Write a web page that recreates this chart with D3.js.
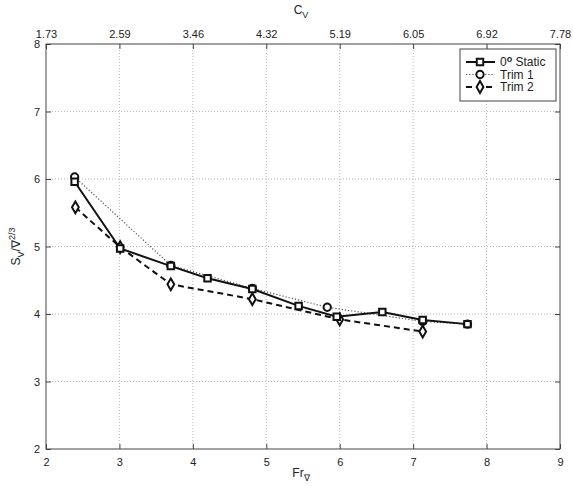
<!DOCTYPE html>
<html>
<head>
<script src="https://cdnjs.cloudflare.com/ajax/libs/d3/7.8.5/d3.min.js"></script>
<style>
  body { margin: 0; background: #fff; }
  text { font-family: "Liberation Sans", Arial, sans-serif; fill: #222; }
</style>
</head>
<body>
<div id="vis"></div>
<script>
// values
const frStatic = [2.39, 3.01, 3.70, 4.20, 4.81, 5.44, 5.96, 6.58, 7.13, 7.74];
const sStatic  = [5.96, 4.97, 4.71, 4.53, 4.37, 4.12, 3.96, 4.03, 3.91, 3.85];
const frTrim1  = [2.39, 3.70, 4.81, 5.83, 7.13, 7.74];
const sTrim1   = [6.03, 4.72, 4.38, 4.10, 3.89, 3.85];
const frTrim2  = [2.40, 3.01, 3.70, 4.81, 6.00, 7.13];
const sTrim2   = [5.58, 4.99, 4.44, 4.22, 3.92, 3.74];

const frTicks = [2, 3, 4, 5, 6, 7, 8, 9];
const cvTickLabels = ["1.73", "2.59", "3.46", "4.32", "5.19", "6.05", "6.92", "7.78"];
const sTicks = [2, 3, 4, 5, 6, 7, 8];

const width = 573, height = 486;
const m = {left: 46, right: 13, top: 44, bottom: 37};

const svg = d3.select("#vis").append("svg")
    .attr("width", width).attr("height", height);

const x = d3.scaleLinear().domain([2, 9]).range([m.left, width - m.right]);
const y = d3.scaleLinear().domain([2, 8]).range([height - m.bottom, m.top]);

// grid
const grid = svg.append("g").attr("stroke", "#b8b8b8").attr("stroke-width", 1)
    .attr("stroke-dasharray", "1,2");
grid.selectAll("line.v").data(frTicks.slice(1, -1)).join("line")
    .attr("x1", d => x(d)).attr("x2", d => x(d))
    .attr("y1", y(8)).attr("y2", y(2));
grid.selectAll("line.h").data(sTicks.slice(1, -1)).join("line")
    .attr("x1", x(2)).attr("x2", x(9))
    .attr("y1", d => y(d)).attr("y2", d => y(d));

// axes (matlab style, ticks inward)
const axisColor = "#444";
function styleAxis(g) {
  g.select(".domain").remove();
  g.selectAll(".tick line").attr("stroke", axisColor);
  g.selectAll(".tick text").attr("font-size", 11).attr("fill", "#222")
    .attr("font-family", "Liberation Sans, Arial, sans-serif");
}
svg.append("g").attr("transform", `translate(0,${y(2)})`)
  .call(d3.axisBottom(x).tickValues(frTicks).tickFormat(d3.format("d")).tickSizeInner(-5).tickPadding(9))
  .call(styleAxis);
svg.append("g").attr("transform", `translate(0,${y(8)})`)
  .call(d3.axisTop(x).tickValues(frTicks).tickFormat((d, i) => cvTickLabels[i]).tickSizeInner(-5).tickPadding(6))
  .call(styleAxis);
svg.append("g").attr("transform", `translate(${x(2)},0)`)
  .call(d3.axisLeft(y).tickValues(sTicks).tickFormat(d3.format("d")).tickSizeInner(-5).tickPadding(6))
  .call(styleAxis);
svg.append("g").attr("transform", `translate(${x(9)},0)`)
  .call(d3.axisRight(y).tickValues(sTicks).tickFormat("").tickSizeInner(-5))
  .call(styleAxis);

svg.append("rect")
  .attr("x", x(2)).attr("y", y(8))
  .attr("width", x(9) - x(2)).attr("height", y(2) - y(8))
  .attr("fill", "none").attr("stroke", axisColor).attr("stroke-width", 1);

// axis labels
const xl = svg.append("text").attr("x", (x(2) + x(9)) / 2 - 2).attr("y", height - 9)
  .attr("text-anchor", "middle").attr("font-size", 12);
xl.append("tspan").text("Fr");
xl.append("tspan").attr("dy", 4).attr("font-size", 9).text("\u2207");

const tl = svg.append("text").attr("x", (x(2) + x(9)) / 2 - 2).attr("y", 14)
  .attr("text-anchor", "middle").attr("font-size", 12);
tl.append("tspan").text("C");
tl.append("tspan").attr("dy", 4).attr("font-size", 9).text("V");

const yl = svg.append("text")
  .attr("transform", `translate(20,${(y(2) + y(8)) / 2}) rotate(-90)`)
  .attr("text-anchor", "middle").attr("font-size", 12);
yl.append("tspan").text("S");
yl.append("tspan").attr("dy", 4).attr("font-size", 9).text("V");
yl.append("tspan").attr("dy", -4).text("/\u2207");
yl.append("tspan").attr("dy", -5).attr("font-size", 9).text("2/3");

// series
const series = [
  {name: "Trim 1", fr: frTrim1, s: sTrim1, dash: "1.2,2", width: 1.2, color: "#555", marker: "circle"},
  {name: "Trim 2", fr: frTrim2, s: sTrim2, dash: "6,4", width: 2, color: "#111", marker: "diamond"},
  {name: "0 Static", fr: frStatic, s: sStatic, dash: null, width: 2, color: "#111", marker: "square"}
];

const symbols = {
  circle: d3.symbol().type(d3.symbolCircle).size(42),
  square: d3.symbol().type(d3.symbolSquare).size(42),
  diamond: d3.symbol().type(d3.symbolDiamond).size(40)
};

const line = d3.line().x(d => x(d[0])).y(d => y(d[1]));
series.forEach(sr => {
  const pts = sr.fr.map((f, i) => [f, sr.s[i]]);
  svg.append("path").datum(pts)
    .attr("fill", "none").attr("stroke", sr.color)
    .attr("stroke-width", sr.width)
    .attr("stroke-dasharray", sr.dash)
    .attr("d", line);
  svg.append("g").selectAll("path").data(pts).join("path")
    .attr("transform", d => `translate(${x(d[0])},${y(d[1])})`)
    .attr("d", symbols[sr.marker])
    .attr("fill", "#fff").attr("stroke", "#111").attr("stroke-width", 2);
});

// legend
const leg = svg.append("g");
leg.append("rect").attr("x", 460).attr("y", 49).attr("width", 96).attr("height", 52)
  .attr("fill", "#fff").attr("stroke", axisColor);
const legOrder = [series[2], series[0], series[1]];
legOrder.forEach((sr, i) => {
  const ly = 62 + i * 12.5;
  leg.append("line").attr("x1", 466).attr("x2", 495).attr("y1", ly).attr("y2", ly)
    .attr("stroke", sr.color).attr("stroke-width", sr.width)
    .attr("stroke-dasharray", sr.dash);
  leg.append("path").attr("transform", `translate(480,${ly})`)
    .attr("d", symbols[sr.marker])
    .attr("fill", "#fff").attr("stroke", "#111").attr("stroke-width", 2);
  const t = leg.append("text").attr("x", 500).attr("y", ly + 4).attr("font-size", 12);
  if (sr.marker === "square") {
    t.append("tspan").text("0");
    t.append("tspan").attr("dy", -4).attr("font-size", 9).attr("font-weight", "bold").text("o");
    t.append("tspan").attr("dy", 4).text(" Static");
  } else {
    t.text(sr.name);
  }
});
</script>
</body>
</html>
